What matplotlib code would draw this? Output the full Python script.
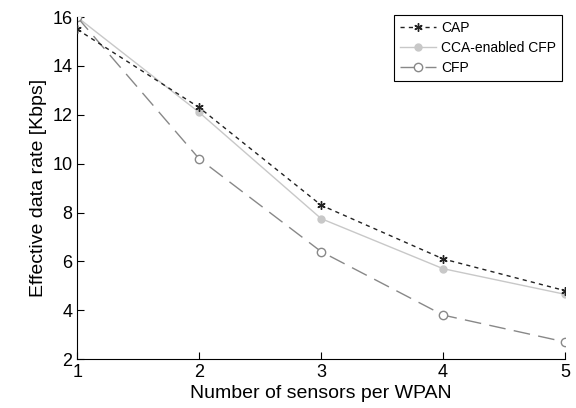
import matplotlib
matplotlib.use("Agg")
import matplotlib.pyplot as plt

plt.rcParams['font.family'] = ['Liberation Sans', 'DejaVu Sans']

sensors = [1, 2, 3, 4, 5]
cap = [15.5, 12.3, 8.3, 6.1, 4.8]
cca_cfp = [16.0, 12.1, 7.75, 5.7, 4.65]
cfp = [16.0, 10.2, 6.4, 3.8, 2.7]

fig = plt.figure(figsize=(5.76, 4.08), dpi=100)
ax = fig.add_axes([0.134, 0.120, 0.847, 0.838])

ax.plot(sensors, cap, color='#222222', ls=(0, (3, 3)), lw=1.0, marker=(6, 2, 0),
        ms=6, mew=1.0, label='CAP', zorder=3)
ax.plot(sensors, cca_cfp, color='#c8c8c8', ls='-', lw=1.0, marker='o', ms=5,
        mec='#c8c8c8', label='CCA-enabled CFP', zorder=2)
ax.plot(sensors, cfp, color='#888888', ls=(0, (12, 6)), lw=1.0, marker='o', ms=6,
        mfc='white', mec='#888888', label='CFP', zorder=2)

ax.set_xlim(1, 5)
ax.set_ylim(2, 16)
ax.set_xticks([1, 2, 3, 4, 5])
ax.set_yticks([2, 4, 6, 8, 10, 12, 14, 16])
ax.tick_params(direction='in', labelsize=13, length=5)
ax.spines['top'].set_visible(False)
ax.spines['right'].set_visible(False)
ax.set_xlabel('Number of sensors per WPAN', fontsize=14, labelpad=3)
ax.set_ylabel('Effective data rate [Kbps]', fontsize=14)

leg = ax.legend(loc='upper right', bbox_to_anchor=(562 / 576, 1 - 15 / 408),
                bbox_transform=fig.transFigure, fontsize=10, fancybox=False,
                edgecolor='black', framealpha=1, handlelength=2.6, borderpad=0.4,
                labelspacing=0.45, handletextpad=0.4, borderaxespad=0)
leg.get_frame().set_linewidth(0.8)

fig.savefig('out.png', dpi=100)
